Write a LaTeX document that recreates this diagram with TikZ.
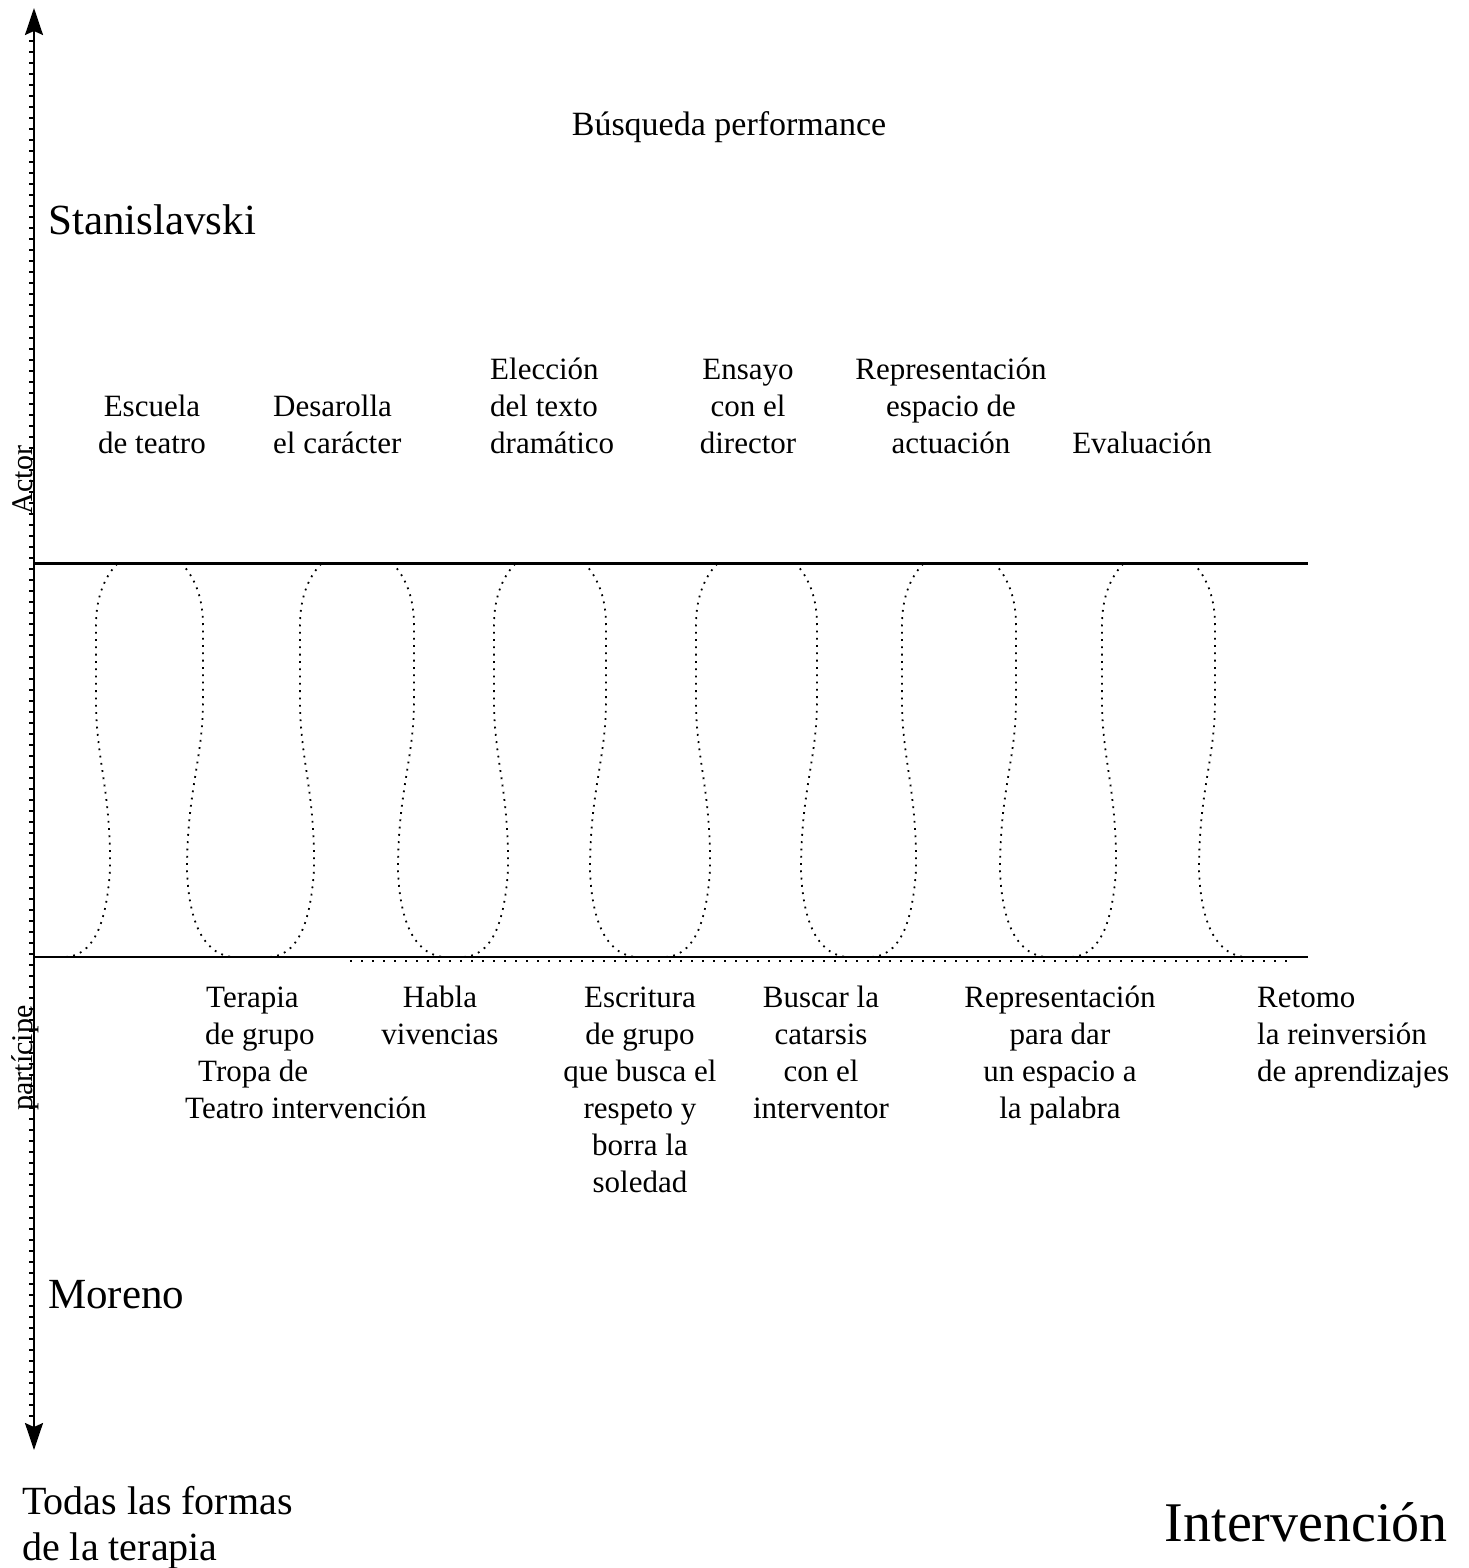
\documentclass[tikz,border=0pt]{standalone}
\usepackage{fontspec}
\setmainfont{Liberation Serif}
\usetikzlibrary{arrows.meta}

\begin{document}
\begin{tikzpicture}[
    x=1pt, y=-1pt,
    lbl/.style={font=\fontsize{31}{37}\selectfont, inner sep=0pt, align=center},
    bigname/.style={font=\fontsize{43}{46}\selectfont, inner sep=0pt},
    side/.style={font=\fontsize{30}{36}\selectfont, inner sep=0pt, rotate=90, anchor=base},
    axis/.style={line width=2pt},
    ticks/.style={line width=4pt, dash pattern=on 2pt off 9pt},
    bell/.style={line width=1.8pt, dash pattern=on 1.8pt off 5.5pt}
]
\useasboundingbox (0,0) rectangle (1468,1568);

% axes
\coordinate (ytop) at (34,8);
\coordinate (ybot) at (34,1450);
\coordinate (hil) at (34,563);
\coordinate (hir) at (1308,563);
\coordinate (lol) at (34,957);
\coordinate (lor) at (1308,957);

\draw[axis, {Stealth[length=27pt, width=18pt, inset=4pt]}-{Stealth[length=27pt, width=18pt, inset=4pt]}] (ytop) -- (ybot);
\draw[ticks] (31,40) -- (31,1418);
\draw[line width=3pt] (hil) -- (hir);
\draw[axis] (lol) -- (lor);
\draw[line width=2pt, dash pattern=on 2pt off 9pt] (350,961) -- (1290,961);

% bells
\foreach \lft/\rgt in {96/203, 300/414, 494/606, 696/817, 902/1016, 1102/1215} {
  \draw[bell] ({\lft-30},957) .. controls ({\lft-5},955) and ({\lft+10},930) .. ({\lft+14},870)
     .. controls ({\lft+15},790) and (\lft,760) .. (\lft,700) -- (\lft,625)
     .. controls (\lft,595) and ({\lft+10},575) .. ({\lft+22},563);
  \draw[bell] ({\rgt-22},563) .. controls ({\rgt-10},575) and (\rgt,595) .. (\rgt,625)
     -- (\rgt,700) .. controls (\rgt,760) and ({\rgt-16},790) .. ({\rgt-16},870)
     .. controls ({\rgt-14},930) and ({\rgt+5},955) .. ({\rgt+30},957);
}

% titles
\node[lbl, font=\fontsize{34}{38}\selectfont] (busqueda) at (729,127) {Búsqueda performance};
\node[bigname, anchor=west] (stanislavski) at (48,220) {Stanislavski};
\node[bigname, anchor=west] (moreno) at (48,1295) {Moreno};
\node[side] (actor) at (32,480) {Actor};
\node[side] (participe) at (32,1058) {partícipe};

% upper steps
\node[lbl, anchor=north] (escuela) at (152,390) {\strut Escuela\\de teatro};
\node[lbl, anchor=north west, align=left] (desarrolla) at (273,390) {\strut Desarolla\\el carácter};
\node[lbl, anchor=north west, align=left] (eleccion) at (490,353) {\strut Elección\\del texto\\dramático};
\node[lbl, anchor=north] (ensayo) at (748,353) {\strut Ensayo\\con el\\director};
\node[lbl, anchor=north] (espacio) at (951,353) {\strut Representación\\espacio de\\actuación};
\node[lbl, anchor=north] (evaluacion) at (1142,427) {\strut Evaluación};

% lower steps
\node[lbl, anchor=north west, align=left] (terapia) at (185,981) {\strut\hspace{21pt}Terapia\\\hspace{20pt}de grupo\\\hspace{13pt}Tropa de\\Teatro intervención};
\node[lbl, anchor=north] (habla) at (440,981) {\strut Habla\\vivencias};
\node[lbl, anchor=north] (escritura) at (640,981) {\strut Escritura\\de grupo\\que busca el\\respeto y\\borra la\\soledad};
\node[lbl, anchor=north] (catarsis) at (821,981) {\strut Buscar la\\catarsis\\con el\\interventor};
\node[lbl, anchor=north] (palabra) at (1060,981) {\strut Representación\\para dar\\un espacio a\\la palabra};
\node[lbl, anchor=north west, align=left] (retomo) at (1257,981) {\strut Retomo\\la reinversión\\de aprendizajes};

% bottom
\node[font=\fontsize{40}{46}\selectfont, inner sep=0pt, align=left, anchor=north west] (todas) at (22,1486) {Todas las formas\\de la terapia};
\node[font=\fontsize{56}{60}\selectfont, inner sep=0pt, anchor=east] (intervencion) at (1448,1522) {Intervención};

\end{tikzpicture}
\end{document}
